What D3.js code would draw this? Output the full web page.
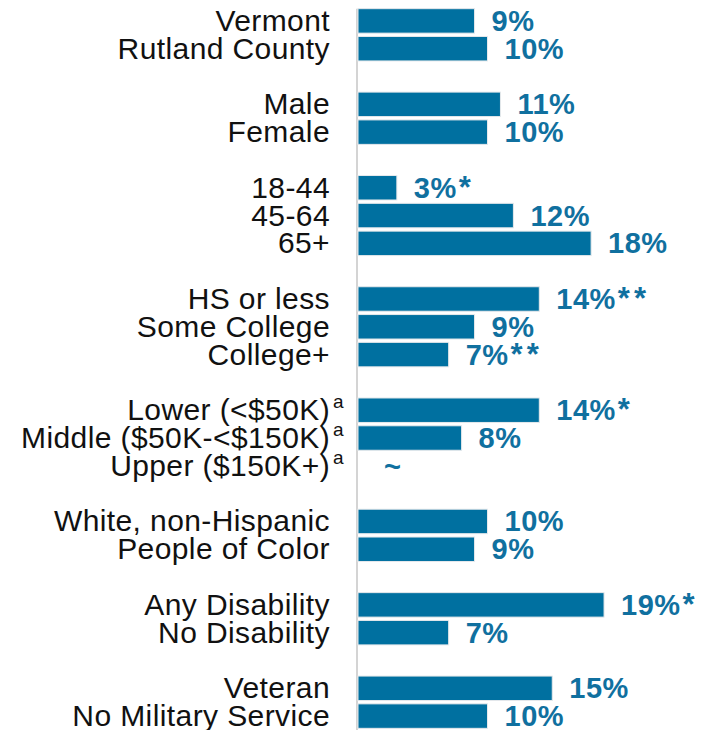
<!DOCTYPE html>
<html lang="en">
<head>
    <meta charset="UTF-8">
    <title>Rutland County bar chart</title>
    <script src="https://d3js.org/d3.v7.min.js"></script>
    <style>
        body { margin: 0; background: #fff; }
        svg { display: block; }
    </style>
</head>
<body>
    <div id="chart"></div>
    <script>
        // data
        const categories = [
            "Vermont", "Rutland County",
            "Male", "Female",
            "18-44", "45-64", "65+",
            "HS or less", "Some College", "College+",
            "Lower (<$50K)", "Middle ($50K-<$150K)", "Upper ($150K+)",
            "White, non-Hispanic", "People of Color",
            "Any Disability", "No Disability",
            "Veteran", "No Military Service"
        ];
        const values = [9, 10, 11, 10, 3, 12, 18, 14, 9, 7, 14, 8, null, 10, 9, 19, 7, 15, 10];
        const valueLabels = ["9%", "10%", "11%", "10%", "3%", "12%", "18%", "14%", "9%", "7%",
            "14%", "8%", "~", "10%", "9%", "19%", "7%", "15%", "10%"];
        const significance = ["", "", "", "", "*", "", "", "**", "", "**", "*", "", "", "", "", "*", "", "", ""];
        const superscripts = ["", "", "", "", "", "", "", "", "", "", "a", "a", "a", "", "", "", "", "", ""];
        const groupSizes = [2, 2, 3, 3, 3, 2, 2, 2];

        const width = 715;
        const height = 730;
        const barColor = "#0070a0";
        const labelColor = "#10709f";

        // one slot per category, plus an empty slot between groups
        const slots = [];
        let k = 0;
        groupSizes.forEach((n, g) => {
            for (let i = 0; i < n; i++) { slots.push("c" + k); k++; }
            if (g < groupSizes.length - 1) slots.push("gap" + g);
        });

        const rows = categories.map((c, i) => ({
            key: "c" + i, name: c, value: values[i], label: valueLabels[i],
            sig: significance[i], sup: superscripts[i]
        }));

        const svg = d3.select("#chart").append("svg")
            .attr("width", width)
            .attr("height", height);

        const y = d3.scaleBand()
            .domain(slots)
            .range([7, 730])
            .paddingInner(0.12)
            .paddingOuter(0.06);

        const x = d3.scaleLinear()
            .domain([0, 20])
            .range([358, 617]);

        // axis line on the left of the bars
        svg.append("line")
            .attr("x1", x(0) - 1).attr("x2", x(0) - 1)
            .attr("y1", y(slots[0])).attr("y2", height)
            .attr("stroke", "#d4d4d4")
            .attr("stroke-width", 2);

        // bars
        svg.selectAll(".bar")
            .data(rows.filter(d => d.value != null))
            .join("rect")
            .attr("class", "bar")
            .attr("x", x(0))
            .attr("y", d => y(d.key))
            .attr("width", d => x(d.value) - x(0))
            .attr("height", y.bandwidth())
            .attr("fill", barColor)
            .attr("stroke", "#e6e9ec")
            .attr("stroke-width", 1);

        // value labels
        const val = svg.selectAll(".val")
            .data(rows)
            .join("text")
            .attr("class", "val")
            .attr("x", d => d.value == null ? x(0) + 26 : x(d.value) + 17)
            .attr("y", d => y(d.key) + y.bandwidth() / 2 + 10)
            .attr("fill", labelColor)
            .attr("font-family", "'Liberation Sans', Arial, sans-serif")
            .attr("font-weight", "bold")
            .attr("font-size", 29)
            .attr("letter-spacing", 0.5);

        val.append("tspan").text(d => d.label);
        val.filter(d => d.sig)
            .append("tspan")
            .attr("dx", 2)
            .attr("letter-spacing", 4)
            .attr("font-size", 31)
            .text(d => d.sig);

        // category labels
        const cat = svg.selectAll(".cat")
            .data(rows)
            .join("text")
            .attr("class", "cat")
            .attr("x", d => d.sup ? 344 : 330)
            .attr("y", d => y(d.key) + y.bandwidth() / 2 + 10)
            .attr("text-anchor", "end")
            .attr("fill", "#111")
            .attr("font-family", "'Liberation Sans', Arial, sans-serif")
            .attr("font-size", 30)
            .attr("letter-spacing", 0.4);

        cat.append("tspan").text(d => d.name);
        cat.filter(d => d.sup)
            .append("tspan")
            .attr("dx", 3)
            .attr("dy", -12)
            .attr("font-size", 19)
            .text(d => d.sup);
    </script>
</body>
</html>
